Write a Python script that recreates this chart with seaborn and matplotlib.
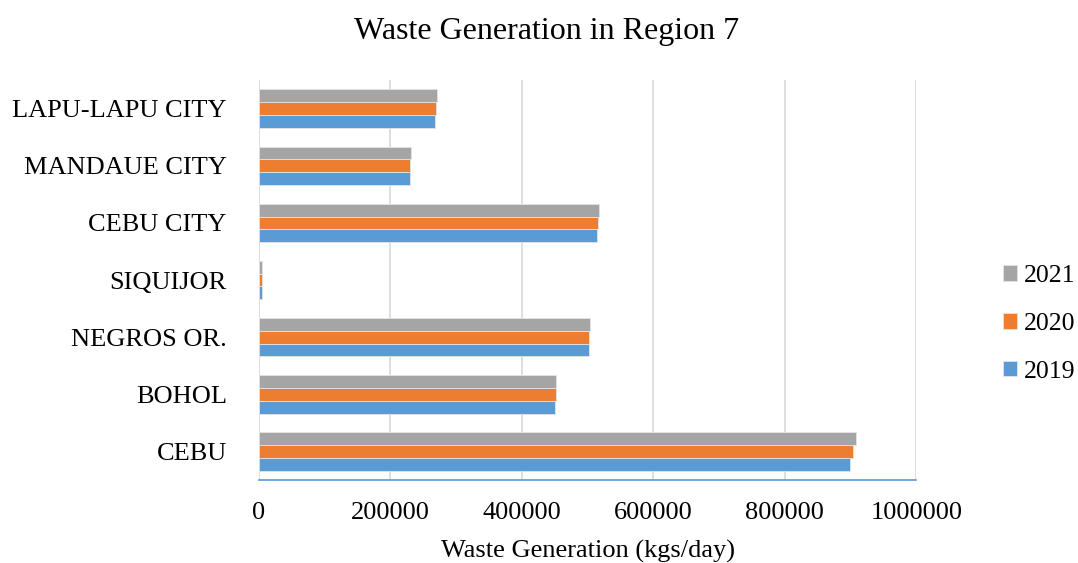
import pandas as pd
import numpy as np
import matplotlib.pyplot as plt
import seaborn as sns

# Waste generation per area (kgs/day)
areas = ['LAPU-LAPU CITY', 'MANDAUE CITY', 'CEBU CITY', 'SIQUIJOR', 'NEGROS OR.', 'BOHOL', 'CEBU']
waste_2019 = [267900, 229300, 514000, 4600, 501800, 450500, 899500]
waste_2020 = [269900, 230300, 515500, 4600, 502800, 451600, 904100]
waste_2021 = [271400, 231400, 517000, 4600, 503300, 452600, 907700]
years = ['2021', '2020', '2019']
colors = ['#A5A5A5', '#ED7D31', '#5B9BD5']

df = pd.concat([
    pd.DataFrame({'area': areas, 'year': '2019', 'waste': waste_2019}),
    pd.DataFrame({'area': areas, 'year': '2020', 'waste': waste_2020}),
    pd.DataFrame({'area': areas, 'year': '2021', 'waste': waste_2021}),
])

sns.set_style('white')
plt.rcParams['font.family'] = ['Liberation Serif', 'DejaVu Serif']
plt.rcParams['text.color'] = 'black'
plt.rcParams['xtick.labelcolor'] = 'black'
plt.rcParams['ytick.labelcolor'] = 'black'

fig = plt.figure(figsize=(10.78, 5.63), dpi=100)
ax = fig.add_axes([0.240, 0.147, 0.610, 0.711])

sns.barplot(data=df, y='area', x='waste', hue='year', hue_order=years,
            order=areas, palette=colors, saturation=1, orient='h', width=0.67,
            edgecolor='#E4E4E4', linewidth=0.6, ax=ax, zorder=3)

ax.set_xlim(0, 1000000)
ax.set_xticks(np.arange(0, 1000001, 200000))
ax.set_xticklabels([str(v) for v in range(0, 1000001, 200000)], fontsize=19)
ax.tick_params(axis='y', labelsize=19, length=0, pad=23, labelcolor='black')
ax.tick_params(axis='x', direction='out', length=6, width=1.2, color='#5B9BD5',
               pad=10, labelcolor='black')
ax.grid(axis='x', color='#D9D9D9', linewidth=1.2, zorder=0)
ax.set_axisbelow(True)

for side in ['top', 'right', 'left']:
    ax.spines[side].set_visible(False)
ax.spines['bottom'].set_color('#5B9BD5')
ax.spines['bottom'].set_linewidth(1.2)

ax.set_ylabel('')
ax.set_xlabel('')
fig.text(0.545, 0.009, 'Waste Generation (kgs/day)', fontsize=19,
         ha='center', va='baseline', color='black')
fig.text(0.507, 0.9316, 'Waste Generation in Region 7', fontsize=23,
         ha='center', va='baseline', color='black')

leg = ax.legend(loc='center left', bbox_to_anchor=(0.909, 0.4245),
                bbox_transform=fig.transFigure, frameon=False,
                fontsize=18.5, handlelength=0.55, handleheight=0.55, handletextpad=0.27,
                labelspacing=1.0)
for t in leg.get_texts():
    t.set_color('black')

plt.savefig('out.png', dpi=100)
